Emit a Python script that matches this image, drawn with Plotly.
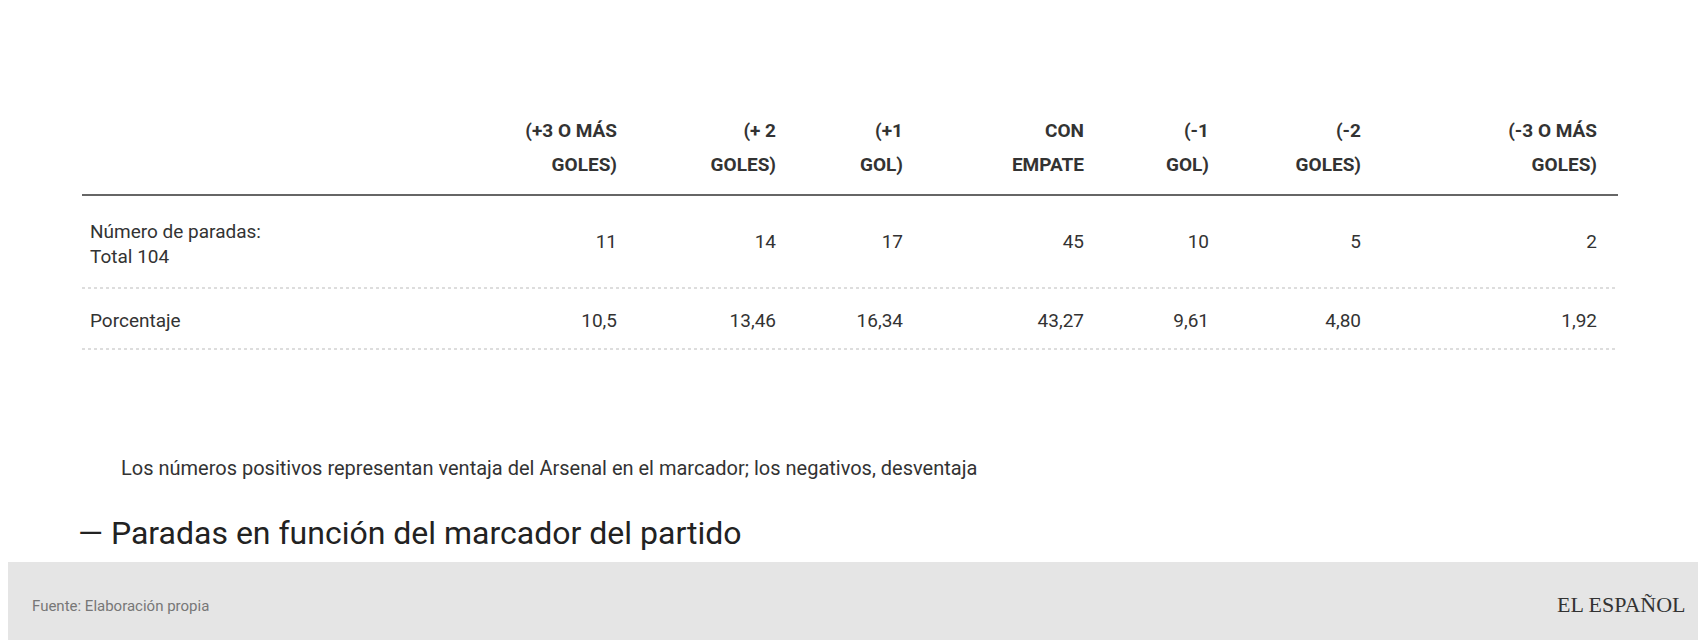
import plotly.graph_objects as go

W, H = 1706, 640
OFF = 8  # the page body adds an 8px margin around the figure

header_top = ["", "(+3 O MÁS", "(+ 2", "(+1", "CON", "(-1", "(-2", "(-3 O MÁS"]
header_bottom = ["", "GOLES)", "GOLES)", "GOL)", "EMPATE", "GOL)", "GOLES)", "GOLES)"]
row_labels = ["Número de paradas:<br>Total 104", "Porcentaje"]
paradas = ["11", "14", "17", "45", "10", "5", "2"]
porcentaje = ["10,5", "13,46", "16,34", "43,27", "9,61", "4,80", "1,92"]

# column edges in page pixels (one small table per column keeps widths exact)
col_edges = [82, 480, 625, 784, 912, 1092, 1217, 1370, 1605]
FONT = "Roboto, Arial"
TXT = "#333333"


def px_x(v):
    return (v - OFF) / W


def px_y(v):
    return 1 - (v - OFF) / H


def style(align):
    return {"fill_color": "rgba(0,0,0,0)", "line": {"width": 0}, "align": align}


row1 = [row_labels[0]] + paradas
row2 = [row_labels[1]] + porcentaje

traces = []
for i in range(len(header_top)):
    align = "left" if i == 0 else "right"
    xdom = [px_x(col_edges[i]), px_x(col_edges[i + 1])]
    bold = {"family": FONT, "size": 19, "color": TXT, "weight": "bold"}
    plain = {"family": FONT, "size": 19, "color": TXT}
    traces.append(go.Table(
        domain={"x": xdom, "y": [px_y(204), px_y(115)]},
        header={"values": [header_top[i]], "height": 34, "font": bold, **style(align)},
        cells={"values": [[header_bottom[i]]], "height": 34, "font": bold, **style(align)},
    ))
    top = 212 if i == 0 else 226
    traces.append(go.Table(
        domain={"x": xdom, "y": [px_y(400), px_y(top)]},
        header={"values": [row1[i]], "height": 93 - (top - 212), "font": plain, **style(align)},
        cells={"values": [[row2[i]]], "height": 61, "font": plain, **style(align)},
    ))

fig = go.Figure(traces)

shapes = [
    dict(type="line", xref="paper", yref="paper", x0=px_x(82), x1=px_x(1618),
         y0=px_y(195), y1=px_y(195), line=dict(color="#333333", width=1.5)),
    dict(type="line", xref="paper", yref="paper", x0=px_x(82), x1=px_x(1618),
         y0=px_y(288), y1=px_y(288), line=dict(color="#bbbbbb", width=1, dash="dot")),
    dict(type="line", xref="paper", yref="paper", x0=px_x(82), x1=px_x(1618),
         y0=px_y(349), y1=px_y(349), line=dict(color="#bbbbbb", width=1, dash="dot")),
    dict(type="rect", xref="paper", yref="paper", x0=0, x1=1,
         y0=0, y1=px_y(562), fillcolor="#e5e5e5", line=dict(width=0), layer="below"),
]

annotations = [
    dict(text="Los números positivos representan ventaja del Arsenal en el marcador; los negativos, desventaja",
         x=px_x(119), y=px_y(468), xanchor="left", yanchor="middle",
         font=dict(family=FONT, size=20, color=TXT)),
    dict(text="— Paradas en función del marcador del partido",
         x=px_x(76), y=px_y(533), xanchor="left", yanchor="middle",
         font=dict(family=FONT, size=32, color="#222222")),
    dict(text="Fuente: Elaboración propia",
         x=px_x(30), y=px_y(606), xanchor="left", yanchor="middle",
         font=dict(family=FONT, size=15, color="#777777")),
    dict(text="EL ESPAÑOL",
         x=px_x(1688), y=px_y(604), xanchor="right", yanchor="middle",
         font=dict(family="Liberation Serif, DejaVu Serif", size=22, color=TXT)),
]
for a in annotations:
    a.update(xref="paper", yref="paper", showarrow=False)

fig.update_layout(
    width=W, height=H, margin=dict(l=0, r=0, t=0, b=0),
    paper_bgcolor="white", plot_bgcolor="white",
    shapes=shapes, annotations=annotations,
)

fig.write_html("out.html")
